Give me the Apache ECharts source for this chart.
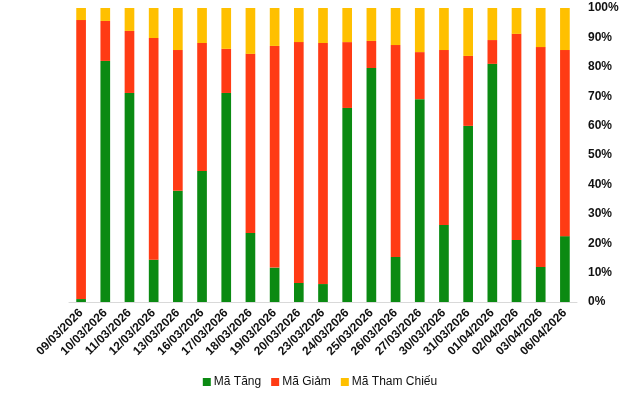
<!DOCTYPE html>
<html><head><meta charset="utf-8">
<script src="https://cdn.jsdelivr.net/npm/echarts@6/dist/echarts.min.js"></script>
<style>html,body{margin:0;padding:0;background:#fff}#c{width:640px;height:393px}</style>
</head><body><div id="c"></div>
<script>
var categories = ["09/03/2026","10/03/2026","11/03/2026","12/03/2026","13/03/2026","16/03/2026","17/03/2026","18/03/2026","19/03/2026","20/03/2026","23/03/2026","24/03/2026","25/03/2026","26/03/2026","27/03/2026","30/03/2026","31/03/2026","01/04/2026","02/04/2026","03/04/2026","06/04/2026"];
var maTang = [1.0,82.0,71.1,14.4,37.8,44.6,71.1,23.5,11.7,6.5,6.1,66.0,79.6,15.3,69.0,26.2,59.9,81.0,21.1,11.9,22.4];
var maGiam = [94.9,13.6,21.1,75.4,47.9,43.5,15.0,60.9,75.4,81.9,82.0,22.4,9.2,72.1,16.0,59.5,23.8,8.1,70.1,74.8,63.3];
var maThamChieu = [4.1,4.4,7.8,10.2,14.3,11.9,13.9,15.6,12.9,11.6,11.9,11.6,11.2,12.6,15.0,14.3,16.3,10.9,8.8,13.3,14.3];
var seriesNames = ["Mã Tăng","Mã Giảm","Mã Tham Chiếu"];
var colors = ["#0b8a12","#ff3b14","#ffc000"];

var chart = echarts.init(document.getElementById('c'), null, {renderer:'canvas'});
var font = "'Liberation Sans', Arial, sans-serif";
function mk(name, data, color){
  return {name:name, type:'bar', stack:'t', data:data, barWidth:'40%', itemStyle:{color:color}};
}
chart.setOption({
  animation:false,
  color: colors,
  grid:{left:69, right:63, top:8, bottom:91, containLabel:false},
  legend:{bottom:0, left:'center', itemWidth:8, itemHeight:8, itemGap:10, icon:'rect',
    textStyle:{fontFamily:font, fontSize:12, color:'#111', padding:[0,0,0,-2]}, data:seriesNames},
  xAxis:{type:'category', data:categories,
    axisLine:{lineStyle:{color:'#d9d9d9'}}, axisTick:{show:false},
    axisLabel:{rotate:45, interval:0, fontFamily:font, fontSize:12, fontWeight:'bold', color:'#111', margin:9}},
  yAxis:{type:'value', position:'right', min:0, max:100, interval:10,
    splitLine:{show:false}, axisLine:{show:false}, axisTick:{show:false},
    axisLabel:{formatter:'{value}%', fontFamily:font, fontSize:12, fontWeight:'bold', color:'#111', margin:11}},
  series:[mk(seriesNames[0], maTang, colors[0]), mk(seriesNames[1], maGiam, colors[1]), mk(seriesNames[2], maThamChieu, colors[2])]
});
</script></body></html>
